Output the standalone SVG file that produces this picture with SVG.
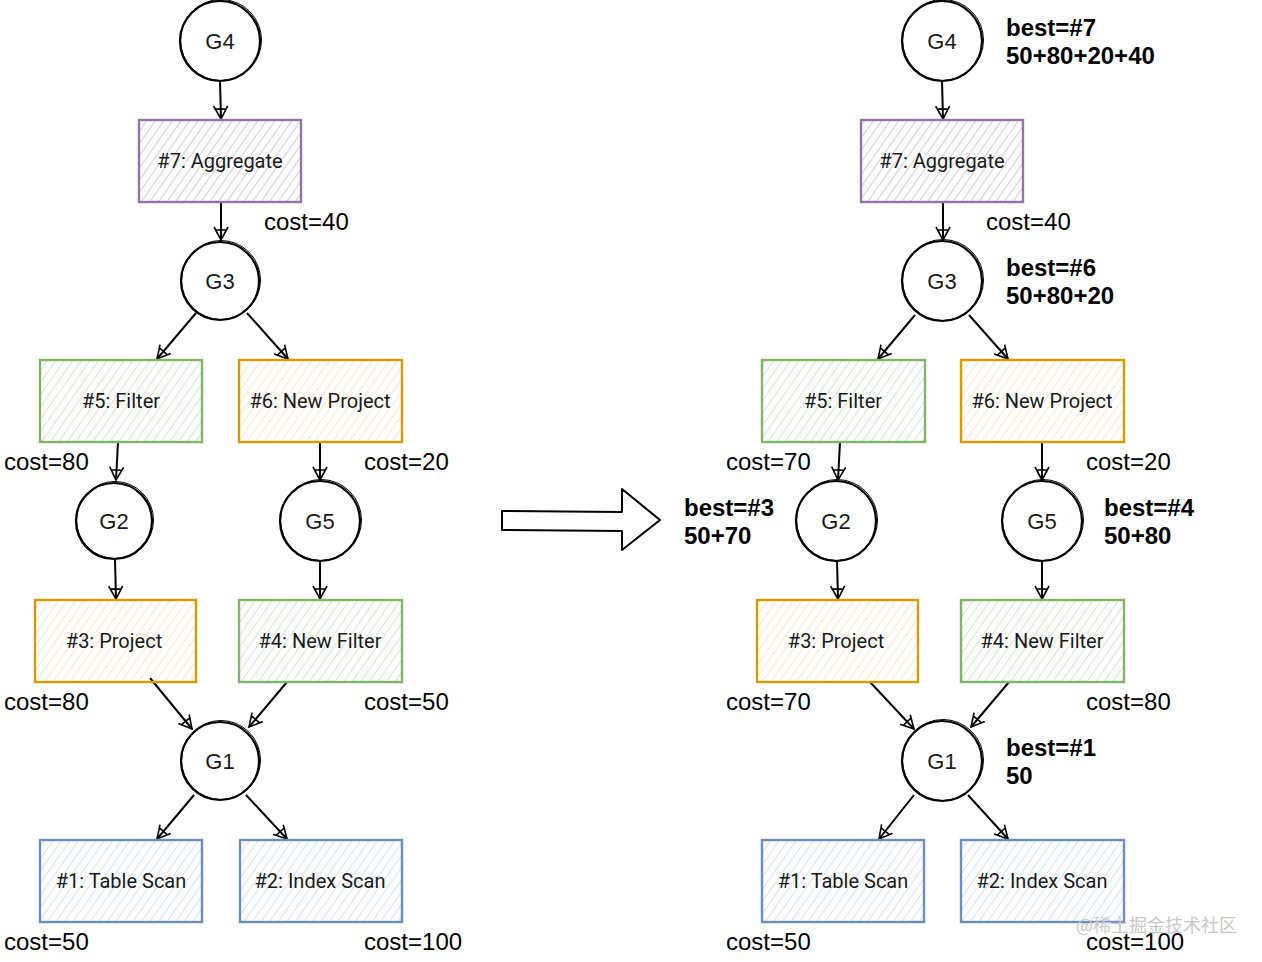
<svg xmlns="http://www.w3.org/2000/svg" width="1262" height="962" viewBox="0 0 1262 962">
<defs>
<pattern id="hp" width="7" height="7" patternUnits="userSpaceOnUse" patternTransform="rotate(35)"><line x1="0" y1="0" x2="0" y2="7" stroke="#c3aed0" stroke-width="1.3"/></pattern>
<pattern id="hg" width="7" height="7" patternUnits="userSpaceOnUse" patternTransform="rotate(35)"><line x1="0" y1="0" x2="0" y2="7" stroke="#b9dbb3" stroke-width="1.3"/></pattern>
<pattern id="ho" width="7" height="7" patternUnits="userSpaceOnUse" patternTransform="rotate(35)"><line x1="0" y1="0" x2="0" y2="7" stroke="#fcd5ab" stroke-width="1.3"/></pattern>
<pattern id="hb" width="7" height="7" patternUnits="userSpaceOnUse" patternTransform="rotate(35)"><line x1="0" y1="0" x2="0" y2="7" stroke="#bcd3f2" stroke-width="1.3"/></pattern>
<marker id="ah" viewBox="0 0 16 16" refX="14" refY="8" markerWidth="16" markerHeight="16" markerUnits="userSpaceOnUse" orient="auto">
<path d="M1,1 L14,8 L1,15 M4,3 L4,13" fill="none" stroke="#000" stroke-width="1.6"/>
</marker>
</defs>
<style>
.c{fill:#fff;stroke:#000;stroke-width:2.2}
.c2{fill:none;stroke:#000;stroke-width:1}
.p{fill:url(#hp);stroke:#9673a6;stroke-width:2.4}
.g{fill:url(#hg);stroke:#82b366;stroke-width:2.4}
.o{fill:url(#ho);stroke:#d79b00;stroke-width:2.4}
.b{fill:url(#hb);stroke:#6c8ebf;stroke-width:2.4}
.bl{font-family:Roboto,"Liberation Sans",sans-serif;font-size:20px;fill:#1a1a1a;text-anchor:middle}
.gl{font-family:"Liberation Sans",Arial,sans-serif;font-size:22px;fill:#1a1a1a;text-anchor:middle}
.cost{font-family:"Liberation Sans",Arial,sans-serif;font-size:24px;fill:#000}
.best{font-family:"Liberation Sans",Arial,sans-serif;font-size:24px;font-weight:bold;fill:#000}
.e{fill:none;stroke:#000;stroke-width:2;marker-end:url(#ah)}
.wm{font-family:"Noto Sans CJK SC","Liberation Sans",sans-serif;font-size:18px;fill:#c8c8c8}
</style>

<g id="connectors">
<path class="e" d="M220,81 L221,119"/>
<path class="e" d="M221,202 L221,240"/>
<path class="e" d="M196,313 L157,359"/>
<path class="e" d="M247,313 L288,359"/>
<path class="e" d="M118,442 L116,480"/>
<path class="e" d="M320,442 L320,480"/>
<path class="e" d="M115,560 L116,599"/>
<path class="e" d="M320,560 L320,599"/>
<path class="e" d="M150,678 L192,729"/>
<path class="e" d="M287,682 L249,727"/>
<path class="e" d="M194,795 L157,839"/>
<path class="e" d="M246,795 L287,839"/>

<path class="e" d="M942,81 L943,119"/>
<path class="e" d="M943,202 L943,240"/>
<path class="e" d="M915,315 L878,359"/>
<path class="e" d="M969,315 L1008,359"/>
<path class="e" d="M840,442 L838,480"/>
<path class="e" d="M1042,442 L1042,480"/>
<path class="e" d="M837,560 L838,599"/>
<path class="e" d="M1042,560 L1042,599"/>
<path class="e" d="M870,682 L914,729"/>
<path class="e" d="M1009,682 L971,727"/>
<path class="e" d="M914,795 L879,839"/>
<path class="e" d="M968,795 L1008,839"/>

<path d="M502,511 L622,512 L622,489 L660,520 L622,550 L622,531 L502,530 Z" fill="#fff" stroke="#000" stroke-width="2" stroke-linejoin="round"/>
</g>

<g id="G4"><circle class="c" cx="220" cy="41" r="40"/><circle class="c2" cx="221" cy="40" r="40.5"/><text class="gl" x="220" y="49">G4</text></g>
<g id="n7"><rect class="p" x="139" y="120" width="162" height="82"/><text class="bl" x="220" y="168">#7: Aggregate</text></g>
<g id="G3"><circle class="c" cx="220" cy="281" r="39"/><circle class="c2" cx="221" cy="280" r="39.5"/><text class="gl" x="220" y="289">G3</text></g>
<g id="n5"><rect class="g" x="40" y="360" width="162" height="82"/><text class="bl" x="121" y="408">#5: Filter</text></g>
<g id="n6"><rect class="o" x="239" y="360" width="163" height="82"/><text class="bl" x="320" y="408">#6: New Project</text></g>
<g id="G2"><circle class="c" cx="114" cy="521" r="38"/><circle class="c2" cx="115" cy="520" r="38.5"/><text class="gl" x="114" y="529">G2</text></g>
<g id="G5"><circle class="c" cx="320" cy="521" r="40"/><circle class="c2" cx="321" cy="520" r="40.5"/><text class="gl" x="320" y="529">G5</text></g>
<g id="n3"><rect class="o" x="35" y="600" width="161" height="82"/><text class="bl" x="114" y="648">#3: Project</text></g>
<g id="n4"><rect class="g" x="239" y="600" width="163" height="82"/><text class="bl" x="320" y="648">#4: New Filter</text></g>
<g id="G1"><circle class="c" cx="220" cy="761" r="39"/><circle class="c2" cx="221" cy="760" r="39.5"/><text class="gl" x="220" y="769">G1</text></g>
<g id="n1"><rect class="b" x="40" y="840" width="162" height="82"/><text class="bl" x="121" y="888">#1: Table Scan</text></g>
<g id="n2"><rect class="b" x="240" y="840" width="162" height="82"/><text class="bl" x="320" y="888">#2: Index Scan</text></g>

<g id="costs-left">
<text class="cost" x="264" y="230">cost=40</text>
<text class="cost" x="4" y="470">cost=80</text>
<text class="cost" x="364" y="470">cost=20</text>
<text class="cost" x="4" y="710">cost=80</text>
<text class="cost" x="364" y="710">cost=50</text>
<text class="cost" x="4" y="950">cost=50</text>
<text class="cost" x="364" y="950">cost=100</text>
</g>

<g id="R-G4"><circle class="c" cx="942" cy="41" r="40"/><circle class="c2" cx="943" cy="40" r="40.5"/><text class="gl" x="942" y="49">G4</text></g>
<g id="R-n7"><rect class="p" x="861" y="120" width="162" height="82"/><text class="bl" x="942" y="168">#7: Aggregate</text></g>
<g id="R-G3"><circle class="c" cx="942" cy="281" r="40"/><circle class="c2" cx="943" cy="280" r="40.5"/><text class="gl" x="942" y="289">G3</text></g>
<g id="R-n5"><rect class="g" x="762" y="360" width="163" height="82"/><text class="bl" x="843" y="408">#5: Filter</text></g>
<g id="R-n6"><rect class="o" x="961" y="360" width="163" height="82"/><text class="bl" x="1042" y="408">#6: New Project</text></g>
<g id="R-G2"><circle class="c" cx="836" cy="521" r="40"/><circle class="c2" cx="837" cy="520" r="40.5"/><text class="gl" x="836" y="529">G2</text></g>
<g id="R-G5"><circle class="c" cx="1042" cy="521" r="40"/><circle class="c2" cx="1043" cy="520" r="40.5"/><text class="gl" x="1042" y="529">G5</text></g>
<g id="R-n3"><rect class="o" x="757" y="600" width="161" height="82"/><text class="bl" x="836" y="648">#3: Project</text></g>
<g id="R-n4"><rect class="g" x="961" y="600" width="163" height="82"/><text class="bl" x="1042" y="648">#4: New Filter</text></g>
<g id="R-G1"><circle class="c" cx="942" cy="761" r="40"/><circle class="c2" cx="943" cy="760" r="40.5"/><text class="gl" x="942" y="769">G1</text></g>
<g id="R-n1"><rect class="b" x="762" y="840" width="162" height="82"/><text class="bl" x="843" y="888">#1: Table Scan</text></g>
<g id="R-n2"><rect class="b" x="961" y="840" width="163" height="82"/><text class="bl" x="1042" y="888">#2: Index Scan</text></g>

<g id="costs-right">
<text class="cost" x="986" y="230">cost=40</text>
<text class="cost" x="726" y="470">cost=70</text>
<text class="cost" x="1086" y="470">cost=20</text>
<text class="cost" x="726" y="710">cost=70</text>
<text class="cost" x="1086" y="710">cost=80</text>
<text class="cost" x="726" y="950">cost=50</text>
<text class="cost" x="1086" y="950">cost=100</text>
</g>

<g id="best">
<text class="best" x="1006" y="36">best=#7</text>
<text class="best" x="1006" y="64">50+80+20+40</text>
<text class="best" x="1006" y="276">best=#6</text>
<text class="best" x="1006" y="304">50+80+20</text>
<text class="best" x="684" y="516">best=#3</text>
<text class="best" x="684" y="544">50+70</text>
<text class="best" x="1104" y="516">best=#4</text>
<text class="best" x="1104" y="544">50+80</text>
<text class="best" x="1006" y="756">best=#1</text>
<text class="best" x="1006" y="784">50</text>
</g>

<text class="wm" x="1076" y="932">@稀土掘金技术社区</text>
</svg>
